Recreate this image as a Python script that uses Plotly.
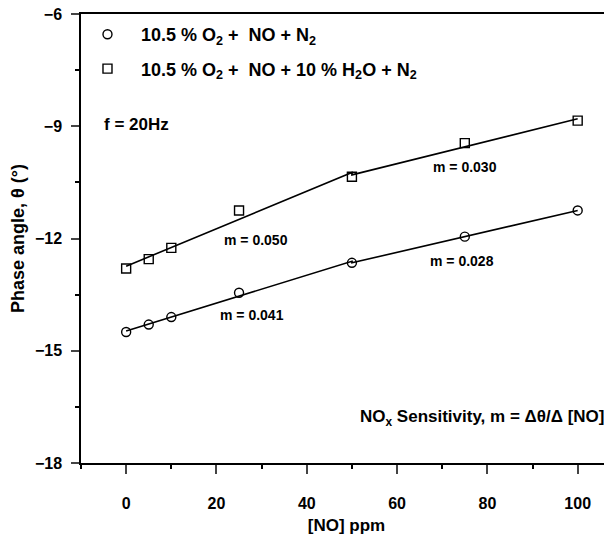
import numpy as np
import plotly.graph_objects as go

# data
no_ppm = [0, 5, 10, 25, 50, 75, 100]
phase_dry = [-14.5, -14.3, -14.1, -13.45, -12.65, -11.95, -11.25]
phase_wet = [-12.8, -12.55, -12.25, -11.25, -10.35, -9.45, -8.85]
label_dry = "10.5 % O<sub>2</sub> +  NO + N<sub>2</sub>"
label_wet = "10.5 % O<sub>2</sub> +  NO + 10 % H<sub>2</sub>O + N<sub>2</sub>"

slope_text = ["m = 0.050", "m = 0.030", "m = 0.041", "m = 0.028"]
slope_x = [28.8, 75, 27.8, 74.3]
slope_y = [-12.04, -10.1, -14.05, -12.6]

x_ticks = [0, 20, 40, 60, 80, 100]
y_ticks = [-18, -15, -12, -9, -6]

FONT = "Liberation Sans"

fig = go.Figure()

def seg_fit(xs, ys, lo, hi):
    xa = np.array(xs, float)
    ya = np.array(ys, float)
    m = (xa >= lo) & (xa <= hi)
    p = np.polyfit(xa[m], ya[m], 1)
    xx = np.array([lo, hi], float)
    return xx, np.polyval(p, xx)

for ys in (phase_dry, phase_wet):
    x1, y1 = seg_fit(no_ppm, ys, 0, 50)
    x2, y2 = seg_fit(no_ppm, ys, 50, 100)
    fig.add_trace(go.Scatter(x=list(x1) + list(x2), y=list(y1) + list(y2), mode="lines",
                             line=dict(color="black", width=1.6), showlegend=False,
                             hoverinfo="skip"))

fig.add_trace(go.Scatter(x=no_ppm, y=phase_dry, mode="markers", name=label_dry,
                         legendgroup="a",
                         marker=dict(symbol="circle-open", size=9, color="black",
                                     line=dict(width=1.4, color="black"))))
fig.add_trace(go.Scatter(x=no_ppm, y=phase_wet, mode="markers", name=label_wet,
                         legendgroup="b",
                         marker=dict(symbol="square-open", size=9, color="black",
                                     line=dict(width=1.4, color="black"))))

for t, xv, yv in zip(slope_text, slope_x, slope_y):
    fig.add_annotation(x=xv, y=yv, text=t, showarrow=False,
                       font=dict(family=FONT, size=14, color="black", weight="bold"))

fig.add_annotation(x=-5.3, y=-8.95, xanchor="left", text="f = 20Hz", showarrow=False,
                   font=dict(family=FONT, size=17, color="black", weight="bold"))
fig.add_annotation(x=106.3, y=-16.8, xanchor="right",
                   text="NO<sub>x</sub> Sensitivity, m = \u0394\u03b8/\u0394 [NO]", showarrow=False,
                   font=dict(family=FONT, size=17, color="black", weight="bold"))

fig.update_layout(
    width=604, height=527,
    margin=dict(l=73, r=0, t=6, b=72),
    plot_bgcolor="white", paper_bgcolor="white",
    font=dict(family=FONT, color="black"),
    legend=dict(x=-0.0132, y=0.9955, xanchor="left", yanchor="top",
                bgcolor="rgba(0,0,0,0)", tracegroupgap=8, itemwidth=57,
                font=dict(family=FONT, size=18, color="black", weight="bold")),
    showlegend=True,
)
fig.update_xaxes(range=[-10, 107.6], tickvals=x_ticks, ticks="outside", ticklen=9,
                 tickwidth=1.5, showline=True, linecolor="black", linewidth=1.5, mirror=True,
                 showgrid=False, zeroline=False, automargin=False, ticklabelstandoff=16,
                 minor=dict(ticks="outside", ticklen=4, dtick=10, tick0=0, tickcolor="black"),
                 tickfont=dict(family=FONT, size=16, color="black", weight="bold"),
                 title=dict(text="[NO] ppm",
                            font=dict(family=FONT, size=17, color="black", weight="bold")))
fig.update_yaxes(range=[-18, -6], tickvals=y_ticks, ticks="outside", ticklen=8,
                 tickwidth=1.5, showline=True, linecolor="black", linewidth=1.5, mirror=False,
                 showgrid=False, zeroline=False, automargin=False, ticklabelstandoff=6,
                 ticklabeloverflow="allow",
                 minor=dict(ticks="outside", ticklen=4, dtick=1.5, tick0=-18, tickcolor="black"),
                 tickfont=dict(family=FONT, size=16, color="black", weight="bold"),
                 title=dict(text="Phase angle, \u03b8 (\u00b0)", standoff=6,
                            font=dict(family=FONT, size=18, color="black", weight="bold")))

fig.write_html("out.html")
